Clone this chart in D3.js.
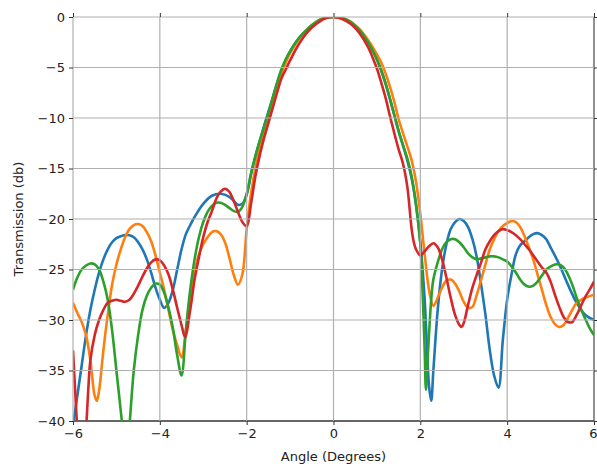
<!DOCTYPE html>
<html><head><meta charset="utf-8">
<script src="https://cdn.jsdelivr.net/npm/d3@7/dist/d3.min.js"></script>
<style>body{margin:0;background:#fff}svg{display:block}text{font-family:"DejaVu Sans",sans-serif}</style>
</head><body><svg id="c" width="597" height="464"></svg>
<script>
const xTicks = [-6,-4,-2,0,2,4,6];
const yTicks = [0,-5,-10,-15,-20,-25,-30,-35,-40];
const seriesNames = ["blue","orange","green","red"];
const seriesColors = ["#1f77b4","#ff7f0e","#2ca02c","#d62728"];

const blueAngle = [-6,-5.9,-5.8,-5.7,-5.6,-5.5,-5.4,-5.3,-5.2,-5.1,-5,-4.9,-4.8,-4.7,-4.6,-4.5,-4.4,-4.3,-4.2,-4.1,-4,-3.9,-3.8,-3.7,-3.6,-3.5,-3.4,-3.3,-3.2,-3,-2.8,-2.6,-2.4,-2.3,-2.2,-2.1,-2,-1.9,-1.8,-1.7,-1.6,-1.5,-1.4,-1.3,-1.2,-1.1,-1,-0.8,-0.6,-0.4,-0.2,0,0.2,0.4,0.6,0.8,0.9,1,1.1,1.2,1.3,1.4,1.5,1.6,1.7,1.8,1.9,2,2.1,2.2,2.25,2.3,2.4,2.5,2.6,2.7,2.8,2.9,3,3.1,3.2,3.3,3.4,3.5,3.6,3.7,3.8,3.9,4,4.1,4.2,4.3,4.4,4.5,4.6,4.7,4.8,4.9,5,5.2,5.4,5.6,5.8,6];
const blueDb = [-40.5,-37.5,-34.5,-31.5,-29,-27,-25.3,-24,-23,-22.3,-21.9,-21.7,-21.6,-21.6,-21.8,-22.3,-23,-24,-25.3,-26.8,-28,-28.8,-28.3,-27,-25,-23,-21.5,-20.6,-19.8,-18.5,-17.7,-17.5,-17.8,-18.2,-18.6,-18.5,-17.6,-15.6,-13.8,-12.3,-10.8,-9.4,-8,-6.6,-5.3,-4.3,-3.4,-2.1,-1.2,-0.5,-0.1,0,-0.1,-0.5,-1.3,-2.5,-3.3,-4.2,-5.3,-6.6,-8.1,-9.7,-11.3,-12.7,-14.2,-16,-18.6,-22.3,-28,-36.5,-38,-35,-29,-25,-22.5,-21,-20.3,-20,-20.2,-20.8,-22,-23.8,-26.5,-29.5,-33,-35.5,-36.7,-32,-28,-25.5,-23.5,-22.6,-22.2,-21.8,-21.5,-21.4,-21.6,-22,-22.8,-24.5,-26.5,-28.3,-29.5,-30];

const orangeAngle = [-6,-5.9,-5.8,-5.7,-5.6,-5.5,-5.45,-5.4,-5.3,-5.2,-5.1,-5,-4.9,-4.8,-4.7,-4.6,-4.5,-4.4,-4.3,-4.2,-4.1,-4,-3.9,-3.8,-3.7,-3.6,-3.5,-3.4,-3.3,-3.2,-3.1,-3,-2.9,-2.8,-2.7,-2.6,-2.5,-2.4,-2.3,-2.2,-2.1,-2,-1.9,-1.8,-1.7,-1.6,-1.5,-1.4,-1.3,-1.2,-1.1,-1,-0.8,-0.6,-0.4,-0.2,0,0.2,0.4,0.6,0.8,1,1.1,1.2,1.3,1.4,1.5,1.6,1.7,1.8,1.9,2,2.1,2.2,2.3,2.4,2.5,2.6,2.7,2.8,2.9,3,3.1,3.2,3.3,3.4,3.5,3.6,3.7,3.8,3.9,4,4.1,4.2,4.3,4.4,4.5,4.6,4.7,4.8,4.9,5,5.1,5.2,5.3,5.4,5.5,5.6,5.8,6];
const orangeDb = [-28.3,-29.3,-30.2,-31.5,-34,-37.5,-38,-37,-33,-29.5,-26.5,-24.5,-23,-21.8,-21,-20.6,-20.5,-20.7,-21.3,-22.2,-23.6,-25.3,-27,-29,-31,-32.5,-33.7,-31,-27.5,-25.3,-23.5,-22.5,-21.8,-21.3,-21.2,-21.5,-22.3,-23.8,-25.5,-26.5,-25.5,-21,-17.5,-15,-13,-11.4,-10,-8.5,-7,-5.6,-4.5,-3.6,-2.2,-1.2,-0.5,-0.1,0,-0.1,-0.5,-1.2,-2.3,-3.7,-4.5,-5.6,-6.9,-8.4,-10.1,-11.5,-12.8,-14.2,-16.3,-19.5,-23.5,-27,-28.6,-27.8,-26.8,-26.1,-26,-26.4,-27.2,-28.2,-28.8,-28.7,-27.5,-26,-24.5,-23,-22,-21.2,-20.7,-20.4,-20.2,-20.3,-20.8,-21.7,-22.8,-24,-25.5,-27,-28.5,-29.7,-30.4,-30.7,-30.5,-29.8,-29,-28.3,-27.8,-27.5];

const greenAngle = [-6,-5.9,-5.8,-5.7,-5.6,-5.5,-5.4,-5.3,-5.2,-5.1,-5,-4.9,-4.85,-4.78,-4.71,-4.6,-4.5,-4.4,-4.3,-4.2,-4.1,-4,-3.9,-3.8,-3.7,-3.6,-3.5,-3.4,-3.3,-3.2,-3.1,-3,-2.9,-2.8,-2.7,-2.6,-2.5,-2.4,-2.3,-2.2,-2.1,-2,-1.9,-1.8,-1.7,-1.6,-1.5,-1.4,-1.3,-1.2,-1.1,-1,-0.8,-0.6,-0.4,-0.2,0,0.2,0.4,0.6,0.8,0.9,1,1.1,1.2,1.3,1.4,1.5,1.6,1.7,1.8,1.9,2,2.05,2.1,2.13,2.18,2.25,2.3,2.4,2.5,2.6,2.7,2.8,2.9,3,3.1,3.2,3.3,3.4,3.5,3.6,3.7,3.8,3.9,4,4.1,4.2,4.3,4.4,4.5,4.6,4.7,4.8,4.9,5,5.1,5.2,5.3,5.4,5.5,5.6,5.7,5.8,5.9,6];
const greenDb = [-27,-25.8,-25,-24.6,-24.4,-24.5,-25,-26.2,-28,-31,-35,-39,-41,-44,-41,-35,-31.5,-29,-27.6,-26.8,-26.4,-26.5,-27.3,-28.8,-30.8,-33.5,-35.5,-31,-27,-24,-21.8,-20.3,-19.3,-18.7,-18.4,-18.4,-18.6,-18.9,-19.2,-19.3,-18.8,-17.5,-15.5,-13.8,-12.3,-10.9,-9.5,-8,-6.5,-5.2,-4.2,-3.4,-2.1,-1.2,-0.5,-0.1,0,-0.1,-0.5,-1.3,-2.5,-3.3,-4.2,-5.3,-6.6,-8.1,-9.7,-11.3,-12.7,-14,-15.8,-18.5,-22.5,-27,-33,-36.9,-33,-28,-26,-24.3,-23,-22.3,-22,-22,-22.3,-22.8,-23.4,-23.8,-24,-23.9,-23.8,-23.7,-23.7,-23.8,-24,-24.2,-24.7,-25.3,-26,-26.5,-26.7,-26.6,-26.2,-25.6,-25,-24.7,-24.5,-24.5,-24.8,-25.5,-26.5,-27.8,-28.9,-29.9,-30.8,-31.5];

const redAngle = [-6,-5.95,-5.9,-5.8,-5.7,-5.65,-5.6,-5.5,-5.4,-5.3,-5.2,-5.1,-5,-4.9,-4.8,-4.7,-4.6,-4.5,-4.4,-4.3,-4.2,-4.1,-4,-3.9,-3.8,-3.7,-3.6,-3.5,-3.42,-3.3,-3.2,-3.1,-3,-2.9,-2.8,-2.7,-2.6,-2.5,-2.4,-2.3,-2.2,-2.1,-2,-1.9,-1.8,-1.7,-1.6,-1.5,-1.4,-1.3,-1.2,-1.1,-1,-0.8,-0.6,-0.4,-0.2,0,0.2,0.4,0.6,0.8,0.9,1,1.1,1.2,1.3,1.4,1.5,1.6,1.7,1.8,1.85,1.9,2,2.1,2.2,2.3,2.4,2.5,2.6,2.7,2.8,2.9,2.95,3,3.1,3.2,3.3,3.4,3.5,3.6,3.7,3.8,3.9,4,4.1,4.2,4.3,4.4,4.5,4.6,4.7,4.8,4.9,5,5.1,5.2,5.3,5.4,5.5,5.6,5.7,5.8,5.9,6];
const redDb = [-33,-37,-41,-48,-41,-37,-34,-31.5,-30,-29,-28.3,-28.1,-28,-28.1,-28.2,-28,-27.4,-26.6,-25.7,-24.9,-24.3,-24,-24.1,-24.6,-25.5,-27,-28.8,-30.5,-31.7,-29,-26,-23.8,-21.8,-20.3,-19.2,-18,-17.3,-17,-17.3,-18.2,-19.3,-20.3,-20.7,-18.5,-15.8,-13.7,-12,-10.5,-9,-7.5,-6.1,-5.2,-4.3,-2.7,-1.5,-0.7,-0.15,0,-0.2,-0.7,-1.6,-3,-4,-5.1,-6.5,-8,-9.8,-11.5,-13.1,-14.5,-16.8,-21,-22.3,-23,-23.6,-23.2,-22.7,-22.4,-22.8,-24,-25.8,-27.8,-29.5,-30.5,-30.7,-30.3,-28.5,-26.8,-25.5,-24.3,-23,-22.2,-21.6,-21.2,-21,-21.1,-21.3,-21.6,-22,-22.5,-23,-23.6,-24.2,-24.8,-25.3,-26.2,-27.5,-28.7,-29.7,-30.2,-30.2,-29.5,-28.6,-27.7,-27,-26.2];

const series = [
  {name:"blue", a:blueAngle, v:blueDb},
  {name:"orange", a:orangeAngle, v:orangeDb},
  {name:"green", a:greenAngle, v:greenDb},
  {name:"red", a:redAngle, v:redDb}
];

const svg = d3.select("#c");
const L=73, R=594, T=17, B=421;
const x = d3.scaleLinear().domain([-6,6]).range([L,R]);
const y = d3.scaleLinear().domain([0,-40]).range([T,B]);

svg.append("defs").append("clipPath").attr("id","clip")
  .append("rect").attr("x",L).attr("y",T).attr("width",R-L).attr("height",B-T);

svg.append("line").attr("x1",L).attr("x2",R).attr("y1",B).attr("y2",B).attr("stroke","#333").attr("stroke-width",1.3);
svg.append("line").attr("x1",R).attr("x2",R).attr("y1",T).attr("y2",B).attr("stroke","#555").attr("stroke-width",1.3);

const line = d3.line().x(d=>x(d[0])).y(d=>y(d[1])).curve(d3.curveCatmullRom.alpha(0.5));
const g = svg.append("g").attr("clip-path","url(#clip)");
series.forEach((s,i)=>{
  const pts = s.a.map((a,j)=>[a,s.v[j]]);
  g.append("path").attr("d",line(pts)).attr("fill","none")
    .attr("stroke",seriesColors[i]).attr("stroke-width",2.6).attr("stroke-linejoin","round");
});

const grid = svg.append("g");
xTicks.forEach(t=>{
  grid.append("line").attr("x1",x(t)).attr("x2",x(t)).attr("y1",T).attr("y2",B)
    .attr("stroke","#b0b0b0").attr("stroke-width",1.2).attr("opacity", t===6?0:1);
});
yTicks.forEach(t=>{
  grid.append("line").attr("x1",L).attr("x2",R).attr("y1",y(t)).attr("y2",y(t))
    .attr("stroke","#b0b0b0").attr("stroke-width",1.2).attr("opacity", t===-40?0:1);
});

const fmt = d=>d<0?"\u2212"+Math.abs(d):d;
const xAxis = d3.axisBottom(x).tickValues(xTicks).tickSize(4).tickPadding(4).tickFormat(fmt);
const yAxis = d3.axisLeft(y).tickValues(yTicks).tickSize(4).tickPadding(4).tickFormat(fmt);
const gx = svg.append("g").attr("transform",`translate(0,${B})`).call(xAxis);
const gy = svg.append("g").attr("transform",`translate(${L},0)`).call(yAxis);
[gx,gy].forEach(a=>{
  a.select(".domain").remove();
  a.selectAll("line").attr("stroke","#333");
  a.selectAll("text").attr("font-size",13).attr("fill","#222").attr("font-family","DejaVu Sans");
});
// keep the last x label inside the canvas
gx.selectAll(".tick").filter(d=>d===6).select("text").attr("text-anchor","end").attr("dx",3);

const gt = svg.append("g").attr("transform",`translate(0,${T})`).call(d3.axisTop(x).tickValues(xTicks).tickSize(4).tickFormat(""));
const gr = svg.append("g").attr("transform",`translate(${R},0)`).call(d3.axisRight(y).tickValues(yTicks).tickSize(4).tickFormat(""));
[gt,gr].forEach(a=>{ a.select(".domain").remove(); a.selectAll("line").attr("stroke","#333"); });

svg.append("text").attr("x",x(0)).attr("y",461).attr("text-anchor","middle")
  .attr("font-size",13).attr("fill","#222").text("Angle (Degrees)");
svg.append("text").attr("transform",`translate(23,${(T+B)/2}) rotate(-90)`).attr("text-anchor","middle")
  .attr("font-size",13).attr("fill","#222").text("Transmission (db)");
</script></body></html>
